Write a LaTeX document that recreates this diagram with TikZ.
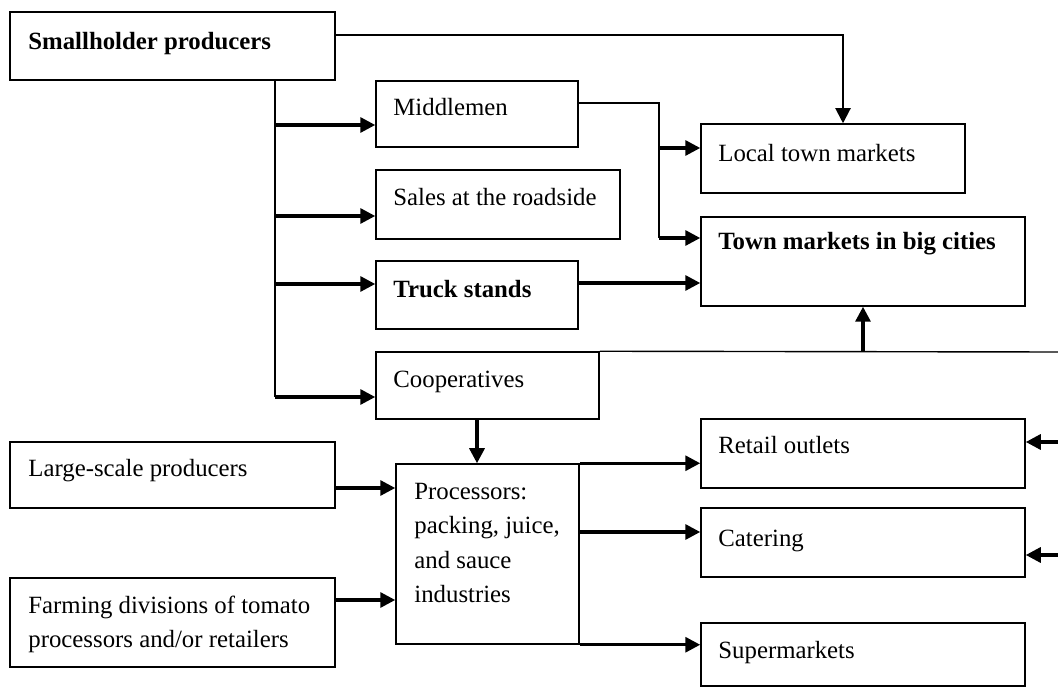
\documentclass[tikz,border=0pt]{standalone}
\usepackage{fontspec}
\setmainfont{Liberation Serif}
\usetikzlibrary{arrows.meta,fit}
\begin{document}
\begin{tikzpicture}[x=0.5pt,y=-0.5pt,
  box/.style={draw, line width=0.75pt, inner sep=0pt},
  txt/.style={anchor=base west, inner sep=0pt, font=\fontsize{12.4}{17}\selectfont},
  thinl/.style={line width=0.7pt},
  arr/.style={line width=1.6pt, -{Triangle[length=7.5pt,width=7.5pt]}},
  arrthin/.style={line width=1pt, -{Triangle[length=7.5pt,width=7.5pt]}}
]
\useasboundingbox (0,0) rectangle (1058,688);
% boxes
\node[box, fit={(10,12) (335,80)}] (S) {};
\node[box, fit={(376,81) (578,147)}] (M) {};
\node[box, fit={(376,170) (620,239)}] (R) {};
\node[box, fit={(376,261) (578,329)}] (T) {};
\node[box, fit={(376,352) (599,419)}] (C) {};
\node[box, fit={(701,124) (965,193)}] (L) {};
\node[box, fit={(701,217) (1025,306)}] (B) {};
\node[box, fit={(10,442) (335,508)}] (LS) {};
\node[box, fit={(10,578) (335,667)}] (F) {};
\node[box, fit={(396,464) (579,644)}] (P) {};
\node[box, fit={(701,419) (1025,488)}] (RO) {};
\node[box, fit={(701,508) (1025,577)}] (CA) {};
\node[box, fit={(701,623) (1025,686)}] (SU) {};
% texts
\node[txt] (St) at (28,50) {\textbf{Smallholder producers}};
\node[txt] (Mt) at (393,116) {Middlemen};
\node[txt] (Rt) at (393,206) {Sales at the roadside};
\node[txt] (Tt) at (393,298) {\textbf{Truck stands}};
\node[txt] (Ct) at (393,388) {Cooperatives};
\node[txt] (Lt) at (718,162) {Local town markets};
\node[txt] (Bt) at (718,250) {\textbf{Town markets in big cities}};
\node[txt] (LSt) at (28,477) {Large-scale producers};
\node[txt] (Ft1) at (28,613) {Farming divisions of tomato};
\node[txt] (Ft2) at (28,647) {processors and/or retailers};
\node[txt] (Pt1) at (414,500) {Processors:};
\node[txt] (Pt2) at (414,533) {packing, juice,};
\node[txt] (Pt3) at (414,568) {and sauce};
\node[txt] (Pt4) at (414,602) {industries};
\node[txt] (ROt) at (718,454) {Retail outlets};
\node[txt] (CAt) at (718,546) {Catering};
\node[txt] (SUt) at (718,658) {Supermarkets};
% junction coordinates
\coordinate (j1) at (275,125);
\coordinate (j2) at (275,216);
\coordinate (j3) at (275,284);
\coordinate (j4) at (275,397);
\coordinate (k1) at (659,148);
\coordinate (k2) at (659,238);
\coordinate (c1) at (863,352);
\coordinate (e1) at (1058,352);
\coordinate (r1) at (1058,442);
\coordinate (r2) at (1058,555);
% connectors
\draw[arrthin] (S.east |- 0,35) -| (843,0 |- L.north);
\draw[thinl] (S.south -| j1) -- (j4);
\draw[arr] (j1) -- (M.west |- j1);
\draw[arr] (j2) -- (R.west |- j2);
\draw[arr] (j3) -- (T.west |- j3);
\draw[arr] (j4) -- (C.west |- j4);
\draw[thinl] (M.east |- 0,103) -| (k2);
\draw[arr] (k1) -- (L.west |- k1);
\draw[arr] (k2) -- (B.west |- k2);
\draw[arr] (T.east |- 0,283) -- (B.west |- 0,283);
\draw[thinl] (C.north east) -- (e1);
\draw[arr] (c1) -- (c1 |- B.south);
\draw[arr] (477,0 |- C.south) -- (477,0 |- P.north);
\draw[arr] (LS.east |- 0,488) -- (P.west |- 0,488);
\draw[arr] (F.east |- 0,600) -- (P.west |- 0,600);
\draw[arr] (P.north east) -- (RO.west |- P.north east);
\draw[arr] (P.east |- 0,532) -- (CA.west |- 0,532);
\draw[arr] (P.south east) -- (SU.west |- P.south east);
\draw[arr] (r1) -- (RO.east |- r1);
\draw[arr] (r2) -- (CA.east |- r2);
\end{tikzpicture}
\end{document}
